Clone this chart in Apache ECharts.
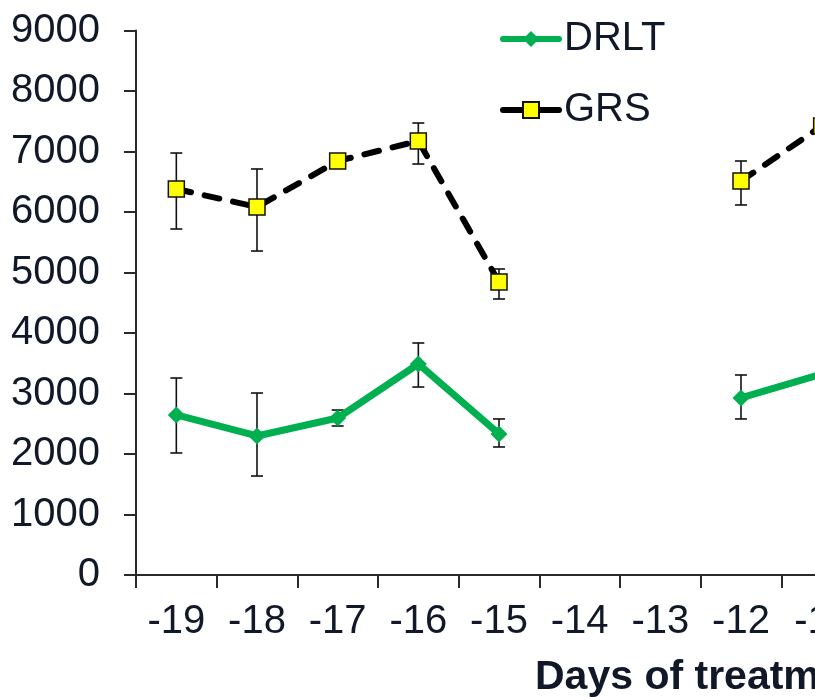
<!DOCTYPE html>
<html>
<head>
<meta charset="utf-8">
<script src="https://cdn.jsdelivr.net/npm/echarts@6/dist/echarts.min.js"></script>
<style>
html,body{margin:0;padding:0;background:#fff;overflow:hidden;width:815px;height:697px;}
#chart{width:900px;height:697px;}
</style>
</head>
<body>
<div id="chart"></div>
<script>
const categories = ['-19','-18','-17','-16','-15','-14','-13','-12','-11'];
const yTicks = [0,1000,2000,3000,4000,5000,6000,7000,8000,9000];
const drlt     = [2645, 2298, 2595, 3488, 2331, null, null, 2926, 3320];
const drltLow  = [2017, 1636, 2463, 3107, 2116, null, null, 2579, null];
const drltHigh = [3256, 3008, 2727, 3835, 2579, null, null, 3306, null];
const grs      = [6380, 6083, 6843, 7174, 4843, null, null, 6512, 7420];
const grsLow   = [5719, 5355, 6780, 6793, 4562, null, null, 6116, null];
const grsHigh  = [6975, 6711, 6910, 7471, 5058, null, null, 6843, null];
const axisTitle = 'Days of treatment';

const FONT = '"Liberation Sans", Arial, sans-serif';
const TXT = '#111827';

function errData(low, high) {
  const out = [];
  for (let i = 0; i < categories.length; i++) {
    if (low[i] != null && high[i] != null) out.push([i, low[i], high[i]]);
  }
  return out;
}
function errRender(params, api) {
  const i = api.value(0);
  const pLo = api.coord([i, api.value(1)]);
  const pHi = api.coord([i, api.value(2)]);
  const w = 6;
  const st = { stroke: '#111', lineWidth: 1.6 };
  return {
    type: 'group',
    children: [
      { type: 'line', shape: { x1: pLo[0], y1: pLo[1], x2: pHi[0], y2: pHi[1] }, style: st },
      { type: 'line', shape: { x1: pLo[0]-w, y1: pLo[1], x2: pLo[0]+w, y2: pLo[1] }, style: st },
      { type: 'line', shape: { x1: pHi[0]-w, y1: pHi[1], x2: pHi[0]+w, y2: pHi[1] }, style: st }
    ]
  };
}

const chart = echarts.init(document.getElementById('chart'), null, { renderer: 'canvas' });
chart.setOption({
  animation: false,
  backgroundColor: '#fff',
  textStyle: { fontFamily: FONT },
  grid: { left: 136, top: 30.5, right: 38, bottom: 122, containLabel: false },
  legend: {
    orient: 'vertical',
    left: 495,
    top: 14,
    itemWidth: 56,
    itemHeight: 20,
    itemGap: 31,
    textStyle: { fontSize: 40, color: TXT, fontFamily: FONT },
    data: [
      { name: 'DRLT', lineStyle: { width: 6 } },
      { name: 'GRS', lineStyle: { type: 'solid', width: 6 } }
    ]
  },
  xAxis: {
    type: 'category',
    data: categories,
    boundaryGap: true,
    axisLine: { show: true, lineStyle: { color: '#2a2a2a', width: 2 } },
    axisTick: { show: true, alignWithLabel: false, length: 13, lineStyle: { color: '#2a2a2a', width: 2 } },
    axisLabel: { fontSize: 40, color: TXT, margin: 27, fontFamily: FONT, interval: 0 },
    splitLine: { show: false }
  },
  yAxis: {
    type: 'value',
    min: 0, max: 9000, interval: 1000,
    axisLine: { show: true, lineStyle: { color: '#2a2a2a', width: 2 } },
    axisTick: { show: true, length: 12, lineStyle: { color: '#2a2a2a', width: 2 } },
    axisLabel: { fontSize: 40, color: TXT, margin: 36, fontFamily: FONT,
      formatter: v => yTicks.includes(v) ? String(v) : '' },
    splitLine: { show: false }
  },
  graphic: [
    { type: 'text', left: 535, top: 657,
      style: { text: axisTitle, font: 'bold 41px ' + FONT, fill: TXT } }
  ],
  series: [
    { type: 'custom', name: 'errDRLT', renderItem: errRender, data: errData(drltLow, drltHigh), z: 1, silent: true },
    { type: 'custom', name: 'errGRS', renderItem: errRender, data: errData(grsLow, grsHigh), z: 1, silent: true },
    {
      type: 'line', name: 'DRLT', data: drlt, z: 3,
      connectNulls: false,
      symbol: 'diamond', symbolSize: 17, showAllSymbol: true,
      lineStyle: { color: '#00B050', width: 7, cap: 'round', join: 'round' },
      itemStyle: { color: '#00B050', borderWidth: 0 }
    },
    {
      type: 'line', name: 'GRS', data: grs, z: 4,
      connectNulls: false,
      symbol: 'rect', symbolSize: 16, showAllSymbol: true,
      lineStyle: { color: '#000', width: 6, type: [15, 14], cap: 'round' },
      itemStyle: { color: '#FFFF00', borderColor: '#111', borderWidth: 1.5 }
    }
  ]
});
</script>
</body>
</html>
